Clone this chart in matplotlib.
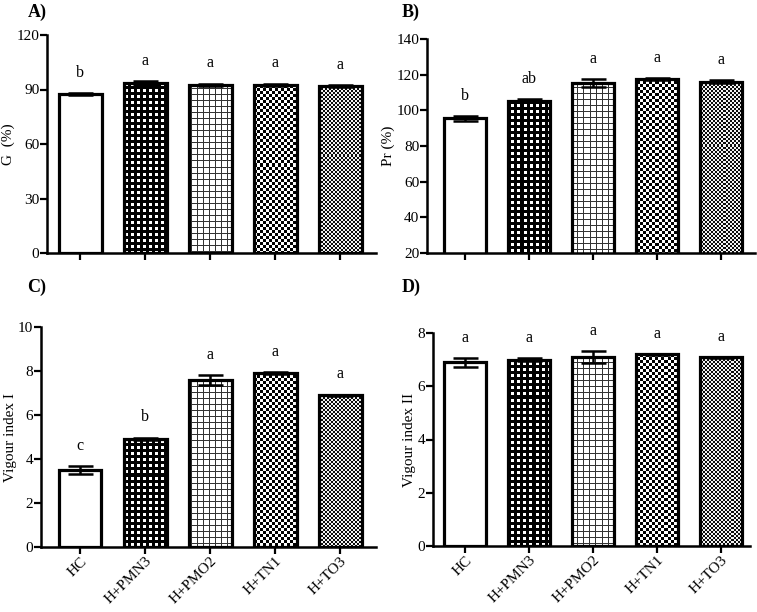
import numpy as np
import matplotlib
matplotlib.use("Agg")
import matplotlib.pyplot as plt

plt.rcParams['font.family'] = ['Liberation Serif', 'DejaVu Serif']

groups = ["HC", "H+PMN3", "H+PMO2", "H+TN1", "H+TO3"]

# A) germination
g_mean = [87.5, 93.5, 92.5, 92.5, 92.0]
g_err = [0.3, 1.0, 0.8, 0.8, 0.6]
g_let = ["b", "a", "a", "a", "a"]

# B) Pr
pr_mean = [95.5, 105.3, 115.3, 117.5, 116.0]
pr_err = [1.5, 0.8, 2.0, 0.5, 0.8]
pr_let = ["b", "ab", "a", "a", "a"]

# C) vigour index I
v1_mean = [3.5, 4.92, 7.6, 7.9, 6.9]
v1_err = [0.17, 0.05, 0.22, 0.04, 0.03]
v1_let = ["c", "b", "a", "a", "a"]

# D) vigour index II
v2_mean = [6.9, 7.0, 7.1, 7.2, 7.08]
v2_err = [0.17, 0.06, 0.22, 0.03, 0.03]
v2_let = ["a", "a", "a", "a", "a"]

patterns = [None, "bold_grid", "thin_grid", "check", "fine_check"]

W, H = 757, 612
fig = plt.figure(figsize=(W / 100, H / 100), dpi=100)


def make_pattern(kind, h, w):
    yy, xx = np.mgrid[0:h, 0:w]
    img = np.ones((h, w))
    if kind == "bold_grid":
        white = ((xx % 6) < 3) & ((yy % 6) < 3)
        img = np.where(white, 1.0, 0.0)
    elif kind == "thin_grid":
        line = ((xx % 6) == 0) | ((yy % 6) == 0)
        img = np.where(line, 0.2, 1.0)
    elif kind == "check":
        img = np.where(((xx // 3) + (yy // 3)) % 2 == 0, 0.0, 1.0)
    elif kind == "fine_check":
        img = np.where(((xx // 2) + (yy // 2)) % 2 == 0, 0.05, 0.95)
    return img


def panel(rect, mean, err, letters, ylim, yticks, ylabel, xlim, tag, tagpos, show_x):
    l, t, r, b = rect
    ax = fig.add_axes([l / W, (H - b) / H, (r - l) / W, (b - t) / H])
    x = np.arange(len(groups))
    ax.set_xlim(*xlim)
    ax.set_ylim(*ylim)
    bars = ax.bar(x, mean, width=0.66, color="white", edgecolor="none", zorder=2)
    pw, ph = int(round(r - l)), int(round(b - t))
    for bar, kind in zip(bars, patterns):
        if kind is None:
            continue
        im = ax.imshow(make_pattern(kind, ph, pw), cmap="gray", vmin=0, vmax=1,
                       extent=(xlim[0], xlim[1], ylim[0], ylim[1]), origin="upper",
                       aspect="auto", interpolation="nearest", zorder=2.5)
        im.set_clip_path(bar)
    ax.bar(x, mean, width=0.66, fill=False, edgecolor="black", linewidth=2.3, zorder=3)
    ax.errorbar(x, mean, yerr=err, fmt="none", ecolor="black", elinewidth=1.8,
                capsize=9, capthick=1.8, zorder=4)
    # significance letters sit a bit above the error bar
    off = 0.056 * (ylim[1] - ylim[0])
    for xi, m, e, s in zip(x, mean, err, letters):
        ax.text(xi, m + e + off, s, ha="center", va="bottom", fontsize=11.5)
    ax.set_yticks(yticks)
    ax.set_xticks(x)
    if show_x:
        ax.set_xticklabels(groups, rotation=45, ha="right", rotation_mode="anchor",
                           fontsize=11.5)
    else:
        ax.set_xticklabels([])
    ax.set_ylabel(ylabel, fontsize=11, labelpad=1)
    for s in ["top", "right"]:
        ax.spines[s].set_visible(False)
    for s in ["left", "bottom"]:
        ax.spines[s].set_linewidth(1.8)
    ax.tick_params(axis="both", direction="out", length=5, width=1.6, labelsize=11, pad=0.5)
    fig.text(tagpos[0] / W, 1 - tagpos[1] / H, tag, fontsize=13, fontweight="bold",
             ha="center", va="center")
    return ax


panel((47, 35, 376, 253), g_mean, g_err, g_let, (0, 120), np.arange(0, 121, 30),
      "G  (%)", (-0.51, 4.55), "A)", (37, 12), False)
panel((427, 39, 755, 253), pr_mean, pr_err, pr_let, (20, 140), np.arange(20, 141, 20),
      "Pr (%)", (-0.59, 4.53), "B)", (411, 12), False)
panel((41, 327, 376, 547), v1_mean, v1_err, v1_let, (0, 10), np.arange(0, 11, 2),
      "Vigour index I", (-0.6, 4.55), "C)", (37, 287), True)
panel((433, 333, 750, 546), v2_mean, v2_err, v2_let, (0, 8), np.arange(0, 9, 2),
      "Vigour index II", (-0.5, 4.45), "D)", (411, 287), True)

fig.savefig("out.png", dpi=100)
